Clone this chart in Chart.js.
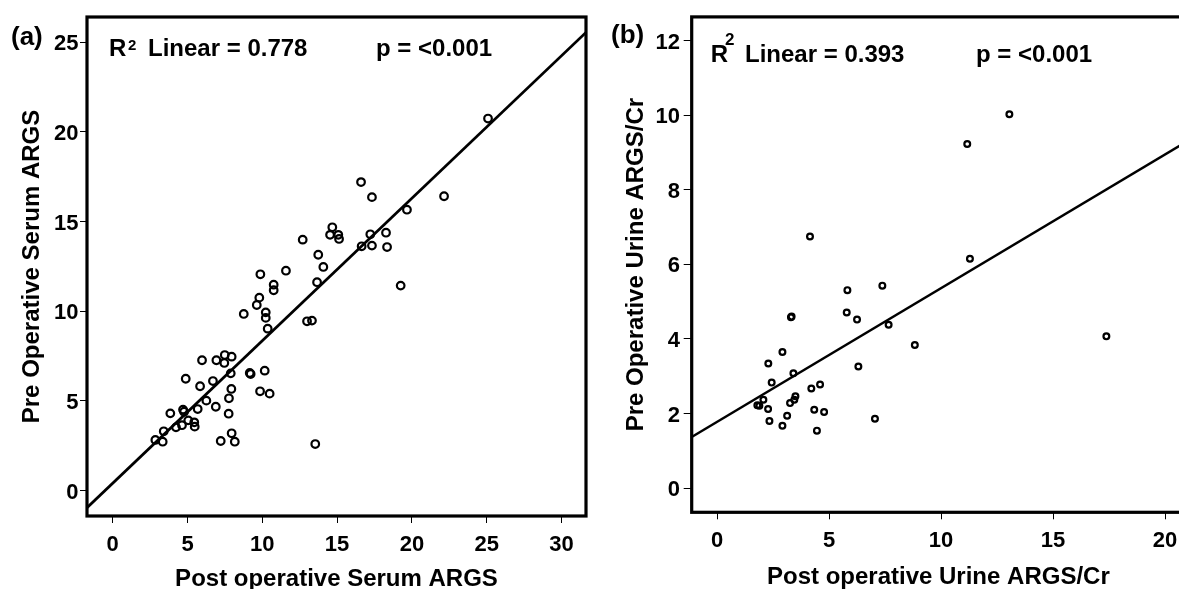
<!DOCTYPE html>
<html><head><meta charset="utf-8">
<script src="https://cdn.jsdelivr.net/npm/chart.js@4.4.0/dist/chart.umd.min.js"></script>
<style>
html,body{margin:0;padding:0;background:#fff;overflow:hidden;width:1179px;height:589px;position:relative}
canvas{position:absolute;top:0}
#ca{left:0}
#cb{left:600px}
</style></head><body>
<canvas id="ca" width="600" height="589"></canvas>
<canvas id="cb" width="600" height="589"></canvas>
<script>
const FONT = '"Liberation Sans", Arial, Helvetica, sans-serif';

// ---- Panel (a): serum ARGS ----
const postSerum = [16.60,17.33,14.68,14.53,15.08,15.13,12.70,17.22,18.27,16.64,17.33,18.34,13.74,14.08,13.66,11.58,9.87,10.76,10.76,9.80,9.63,8.76,10.23,10.23,10.36,12.99,13.32,25.09,22.15,19.67,19.25,5.97,6.93,7.49,7.95,7.46,4.88,6.70,7.89,9.16,9.22,10.16,5.84,7.93,7.77,9.85,10.49,6.26,5.68,6.89,4.70,4.77,3.85,7.75,5.05,5.45,5.48,4.63,4.23,3.41,2.85,3.34,7.95,7.22,8.16,13.54];
const preSerum  = [17.20,16.36,14.68,14.26,14.26,14.03,13.99,14.29,14.38,13.62,13.66,13.58,13.15,12.47,11.62,12.26,12.06,11.48,11.17,10.76,10.35,9.85,9.94,9.63,9.03,9.44,9.48,20.74,16.41,15.66,11.43,7.27,7.27,7.56,7.47,7.12,6.24,6.11,6.54,6.56,6.50,6.69,5.82,5.67,5.15,5.54,5.41,5.02,4.55,4.68,4.52,4.40,4.31,4.29,3.92,3.81,3.57,3.65,3.53,3.31,2.83,2.73,3.20,2.77,2.73,2.60];
const fitSerumX = [-1.72, 31.64];
const fitSerumY = [-0.95, 25.54];
const xTicksA = [0,5,10,15,20,25,30];
const yTicksA = [0,5,10,15,20,25];

// ---- Panel (b): urine ARGS/Cr ----
const postUrine = [13.05,11.17,11.29,8.83,17.38,4.15,5.82,7.38,5.79,6.25,7.66,3.30,3.33,2.92,2.29,3.41,6.31,2.44,4.60,4.21,2.07,3.50,3.45,3.26,1.80,1.89,2.28,4.34,4.78,3.13,2.34,7.05,2.92,4.46];
const preUrine  = [10.03,9.23,6.15,3.84,4.07,6.75,5.31,5.43,4.71,4.52,4.38,4.58,4.60,3.65,3.34,3.08,3.26,2.83,2.78,2.67,2.37,2.46,2.37,2.28,2.22,2.21,2.12,2.10,2.04,1.94,1.80,1.86,1.67,1.54];
const fitUrineX = [-1.13, 20.89];
const fitUrineY = [1.37, 9.27];
const xTicksB = [0,5,10,15,20];
const yTicksB = [0,2,4,6,8,10,12];

function pts(xs, ys){ return xs.map((x,i)=>({x:x, y:ys[i]})); }

function makePanel(id, o){
  const boxPlugin = {
    id:'box',
    afterDatasetsDraw(chart){
      const {ctx, chartArea:{left,top,right,bottom}} = chart;
      ctx.save();
      ctx.strokeStyle = '#000'; ctx.lineWidth = 3.2;
      ctx.strokeRect(left, top, right-left, bottom-top);
      ctx.restore();
    }
  };
  const textPlugin = {
    id:'texts',
    afterDraw(chart){
      const ctx = chart.ctx;
      ctx.save();
      ctx.fillStyle = '#000';
      ctx.textBaseline = 'alphabetic';
      ctx.textAlign = 'left';
      o.texts.forEach(t=>{
        ctx.font = 'bold ' + t.size + 'px ' + FONT;
        ctx.fillText(t.s, t.x, t.y);
      });
      ctx.restore();
    }
  };
  const tickFont = {family:FONT, size:22, weight:'bold'};
  const titleFont = {family:FONT, size:24, weight:'bold'};
  new Chart(document.getElementById(id), {
    type:'scatter',
    data:{datasets:[
      {data:pts(o.xs,o.ys), pointStyle:'circle', pointRadius:o.r, pointBorderWidth:2.2,
       borderColor:'#000', backgroundColor:'rgba(0,0,0,0)', showLine:false},
      {data:pts(o.fx,o.fy), showLine:true, pointRadius:0, borderColor:'#000',
       borderWidth:o.lw, backgroundColor:'rgba(0,0,0,0)'}
    ]},
    options:{
      responsive:false, animation:false, devicePixelRatio:1, events:[],
      layout:{padding:{top:o.padTop, right:o.padRight, bottom:0, left:0}},
      plugins:{legend:{display:false}, tooltip:{enabled:false}},
      scales:{
        x:{type:'linear', min:o.xMin, max:o.xMax,
          afterBuildTicks:s=>{ s.ticks = o.xTicks.map(v=>({value:v})); },
          afterFit:s=>{ s.height = o.xH; },
          grid:{display:true, drawOnChartArea:false, drawTicks:true, tickLength:7, color:'#000', lineWidth:1},
          border:{display:false},
          ticks:{color:'#000', font:tickFont, padding:o.xTickPad, maxRotation:0, autoSkip:false},
          title:{display:true, text:o.xTitle, color:'#000', font:titleFont, padding:{top:0, bottom:o.xTitlePad}}
        },
        y:{type:'linear', min:o.yMin, max:o.yMax,
          afterBuildTicks:s=>{ s.ticks = o.yTicks.map(v=>({value:v})); },
          afterFit:s=>{ s.width = o.yW; },
          grid:{display:true, drawOnChartArea:false, drawTicks:true, tickLength:o.yTl, color:'#000', lineWidth:1},
          border:{display:false},
          ticks:{color:'#000', font:tickFont, padding:o.yTickPad, labelOffset:2, autoSkip:false},
          title:{display:true, text:o.yTitle, color:'#000', font:titleFont, padding:{top:o.yTitlePad, bottom:0}}
        }
      }
    },
    plugins:[boxPlugin, textPlugin]
  });
}

makePanel('ca', {
  xs:postSerum, ys:preSerum, fx:fitSerumX, fy:fitSerumY, r:3.8, lw:2.8,
  xMin:-1.72, xMax:31.64, yMin:-1.41, yMax:26.40,
  xTicks:xTicksA, yTicks:yTicksA,
  padTop:17, padRight:14, xH:73, yW:87,
  xTickPad:9, yTickPad:1.5, yTl:7,
  xTitle:'Post operative Serum ARGS', yTitle:'Pre Operative Serum ARGS',
  xTitlePad:-4.9, yTitlePad:18,
  texts:[
    {s:'(a)', x:11, y:45, size:26},
    {s:'R', x:109, y:56, size:24},
    {s:'2', x:128, y:50, size:15},
    {s:'Linear = 0.778', x:148, y:56, size:24},
    {s:'p = <0.001', x:376, y:56, size:24}
  ]
});

makePanel('cb', {
  xs:postUrine, ys:preUrine, fx:fitUrineX, fy:fitUrineY, r:2.9, lw:2.5,
  xMin:-1.13, xMax:20.89, yMin:-0.65, yMax:12.64,
  xTicks:xTicksB, yTicks:yTicksB,
  padTop:14, padRight:15, xH:76.7, yW:91.7,
  xTickPad:8, yTickPad:3.7, yTl:8,
  xTitle:'Post operative Urine ARGS/Cr', yTitle:'Pre Operative Urine ARGS/Cr',
  xTitlePad:-2.4, yTitlePad:22.3,
  texts:[
    {s:'(b)', x:11, y:43, size:26},
    {s:'R', x:110.7, y:61.7, size:24},
    {s:'2', x:125, y:45, size:17},
    {s:'Linear = 0.393', x:145, y:61.7, size:24},
    {s:'p = <0.001', x:376, y:61.7, size:24}
  ]
});
</script>
</body></html>
